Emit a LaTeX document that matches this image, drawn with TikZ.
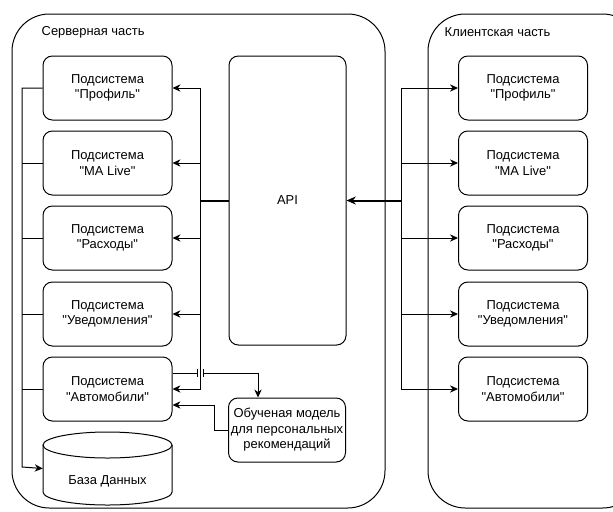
\documentclass[tikz,border=0pt]{standalone}
\usepackage{fontspec}
\setmainfont{Liberation Sans}[Ligatures=TeXOff]
\usetikzlibrary{calc,positioning,arrows.meta}

\tikzset{
  part/.style={draw,line width=0.75pt,rounded corners=28pt},
  subsys/.style={draw,line width=0.75pt,rounded corners=7pt,minimum width=96.75pt,minimum height=48pt,align=center},
  link/.style={line width=0.75pt},
  arr/.style={line width=0.75pt,-{Stealth[length=6pt,width=5.5pt]}},
  bus/.style={line width=1.5pt}
}

\begin{document}
\begin{tikzpicture}[x=0.75pt,y=-0.75pt,font=\fontsize{9.7}{11.6}\selectfont]
\useasboundingbox (0,0) rectangle (613,511);

% части
\draw [part] (12,14) rectangle (385,508);
\draw [part] (428,14) rectangle (640,508);
\node [anchor=west] (srvtitle) at (37,32) {Серверная часть};
\node [anchor=west] (clttitle) at (440,32) {Клиентская часть};

% серверные подсистемы
\node [subsys] (sp) at (107.5,88) {Подсистема\\"Профиль"};
\node [subsys] (sm) at (107.5,163) {Подсистема\\"MA Live"};
\node [subsys] (sr) at (107.5,238) {Подсистема\\"Расходы"};
\node [subsys] (su) at (107.5,314) {Подсистема\\"Уведомления"};
\node [subsys] (sa) at (107.5,389) {Подсистема\\"Автомобили"};

% клиентские подсистемы
\node [subsys] (cp) at (523,88) {Подсистема\\"Профиль"};
\node [subsys] (cm) at (523,163) {Подсистема\\"MA Live"};
\node [subsys] (cr) at (523,238) {Подсистема\\"Расходы"};
\node [subsys] (cu) at (523,314) {Подсистема\\"Уведомления"};
\node [subsys] (ca) at (523,389) {Подсистема\\"Автомобили"};

\node [subsys,minimum width=87.75pt,minimum height=216.75pt] (api) at (287.5,200.5) {API};
\node [subsys,minimum width=87.75pt,inner sep=1pt] (model) at (287,430) {Обученая модель\\для персональных\\рекомендаций};

% база данных
\node [minimum width=96.75pt,minimum height=54.75pt] (db) at (107.5,468.5) {};
\draw [link] (107.5,445) ellipse (48.4pt and 9.75pt);
\draw [link] (43,445) -- (43,492) arc [start angle=180,end angle=360,x radius=48.4pt,y radius=9.75pt] -- (172,445);
\node (dblabel) at (107.5,481) {База Данных};

\coordinate (lbus) at (22,467);
\coordinate (abus) at (200,200.5);
\coordinate (cbus) at (401,200.5);

% общая шина к базе
\draw [arr] (sp.west) -| (lbus) -- (db.west);
\draw [link] (sm.west) -- (sm.west -| lbus);
\draw [link] (sr.west) -- (sr.west -| lbus);
\draw [link] (su.west) -- (su.west -| lbus);
\draw [link] (sa.west) -- (sa.west -| lbus);

% API -> сервер
\draw [bus] (api.west) -- (abus);
\draw [arr] (abus) |- (sp.east);
\draw [arr] (abus) |- (sm.east);
\draw [arr] (abus) |- (sr.east);
\draw [arr] (abus) |- (su.east);
\draw [arr] (abus) |- (sa.east);

% клиент -> API
\draw [bus,-{Stealth[length=7pt,width=6pt]}] (cbus) -- (api.east);
\draw [arr] (cbus) |- (cp.west);
\draw [arr] (cbus) |- (cm.west);
\draw [arr] (cbus) |- (cr.west);
\draw [arr] (cbus) |- (cu.west);
\draw [arr] (cbus) |- (ca.west);

% модель рекомендаций
\draw [link] ($(sa.east)+(0,-16)$) -- (197,373) (197,369) -- (197,377);
\draw [link] (203,369) -- (203,377);
\draw [arr] (203,373) -| ($(model.north)+(-29,0)$);
\draw [arr] (model.west) -- (214,430) |- ($(sa.east)+(0,16)$);

\end{tikzpicture}
\end{document}
